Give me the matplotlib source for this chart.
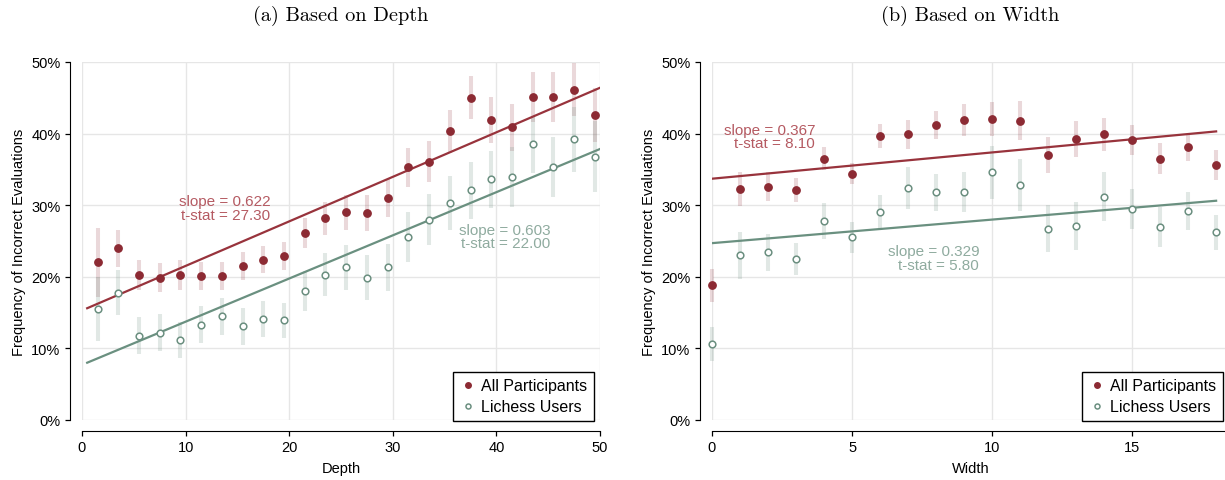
import matplotlib
matplotlib.use("Agg")
import matplotlib.pyplot as plt
import numpy as np

# ---- Data: panel (a) depth ----
depth_x = [1.5 + 2 * i for i in range(25)]
depth_all = [22.0, 24.0, 20.2, 19.9, 20.3, 20.1, 20.1, 21.5, 22.4, 22.9,
             26.1, 28.2, 29.0, 28.9, 31.0, 35.3, 36.1, 40.3, 45.0, 41.9,
             40.9, 45.1, 45.1, 46.1, 42.6]
depth_all_err = [4.8, 2.6, 2.1, 2.0, 2.1, 1.9, 1.9, 1.9, 1.9, 1.9,
                 2.1, 2.3, 2.4, 2.5, 2.6, 2.7, 2.8, 3.0, 3.0, 3.2,
                 3.3, 3.5, 3.5, 3.7, 3.8]
depth_lich = [15.5, 17.8, 11.8, 12.2, 11.2, 13.3, 14.5, 13.1, 14.1, 13.9,
              18.0, 20.3, 21.3, 19.9, 21.3, 25.5, 28.0, 30.3, 32.1, 33.6,
              33.9, 38.5, 35.3, 39.2, 36.8]
depth_lich_err = [4.5, 3.2, 2.6, 2.6, 2.5, 2.6, 2.6, 2.6, 2.5, 2.5,
                  2.8, 3.0, 3.2, 3.2, 3.3, 3.5, 3.6, 3.8, 4.0, 4.0,
                  4.2, 4.0, 4.2, 4.5, 5.0]
depth_fit_x = [0.5, 50.0]
depth_all_fit = [15.3 + 0.622 * 0.5, 15.3 + 0.622 * 50]
depth_lich_fit = [7.7 + 0.603 * 0.5, 7.7 + 0.603 * 50]

# ---- Data: panel (b) width ----
width_x = list(range(19))
width_all = [18.8, 32.3, 32.6, 32.1, 36.5, 34.4, 39.7, 39.9, 41.2, 41.9,
             42.0, 41.8, 37.0, 39.2, 39.9, 39.1, 36.5, 38.1, 35.6]
width_all_err = [2.3, 2.4, 2.0, 1.7, 1.6, 1.5, 1.7, 2.0, 1.9, 2.3,
                 2.4, 2.7, 2.5, 2.5, 2.3, 2.1, 2.2, 1.9, 2.1]
width_lich = [10.6, 23.0, 23.4, 22.5, 27.8, 25.5, 29.1, 32.4, 31.8, 31.8,
              34.6, 32.8, 26.7, 27.1, 31.2, 29.5, 27.0, 29.2, 26.2]
width_lich_err = [2.4, 3.3, 2.6, 2.2, 2.5, 2.2, 2.3, 3.0, 2.6, 2.8,
                  3.7, 3.6, 3.3, 3.3, 3.4, 2.8, 2.8, 2.6, 2.5]
width_fit_x = [0.0, 18.0]
width_all_fit = [33.7, 33.7 + 0.367 * 18]
width_lich_fit = [24.7, 24.7 + 0.329 * 18]

yticks = [0, 10, 20, 30, 40, 50]
ytick_labels = ["0%", "10%", "20%", "30%", "40%", "50%"]

RED = "#8c2a33"
RED_LINE = "#98333c"
RED_ERR = (0.55, 0.16, 0.20, 0.18)
RED_TXT = "#b55a62"
GREEN = "#6b8f80"
GREEN_LINE = "#6a9080"
GREEN_ERR = (0.42, 0.56, 0.50, 0.20)
GREEN_TXT = "#8fab9f"

plt.rcParams['font.family'] = ['Liberation Sans', 'DejaVu Sans']

fig = plt.figure(figsize=(12.25, 4.81), dpi=100)
W, H = 1225, 481
axA = fig.add_axes([82 / W, (H - 421) / H, 518 / W, 358 / H])
axB = fig.add_axes([712 / W, (H - 421) / H, 517 / W, 358 / H])


def draw(ax, x, ya, ea, yl, el, fx, fa, fl, xlim, xticks, xlabel, title, txtA, txtL, axw):
    ax.set_xlim(*xlim)
    ax.set_ylim(0, 50)
    ax.grid(True, color="#e6e6e6", linewidth=1.0, zorder=0)
    ax.set_axisbelow(True)
    ax.set_xticks(xticks)
    ax.set_yticks(yticks)
    ax.set_yticklabels(ytick_labels)
    for s in ["top", "right"]:
        ax.spines[s].set_visible(False)
    ax.spines["left"].set_position(("outward", 9))
    ax.spines["bottom"].set_position(("outward", 8))
    ax.spines["left"].set_bounds(0, 50)
    ax.spines["bottom"].set_bounds(xticks[0], xlim[1])
    ax.tick_params(axis="both", labelsize=10.5, length=3.5, width=0.9, colors="black", pad=3)
    ax.set_xlabel(xlabel, fontsize=10.5, labelpad=5)
    ax.set_ylabel("Frequency of Incorrect Evaluations", fontsize=10.5, labelpad=4)
    ax.set_title(title, fontsize=14.6, family="cmr10", pad=30)

    ax.vlines(x, np.array(ya) - np.array(ea), np.array(ya) + np.array(ea),
              colors=[RED_ERR], linewidth=2.9, zorder=2, clip_on=False)
    ax.vlines(x, np.array(yl) - np.array(el), np.array(yl) + np.array(el),
              colors=[GREEN_ERR], linewidth=2.9, zorder=2, clip_on=False)
    ax.plot(fx, fa, color=RED_LINE, linewidth=1.6, zorder=3)
    ax.plot(fx, fl, color=GREEN_LINE, linewidth=1.6, zorder=3)
    ax.plot(x, ya, linestyle="none", marker="o", markersize=5.3, color=RED,
            markeredgecolor=RED, zorder=4, clip_on=False, label="All Participants")
    ax.plot(x, yl, linestyle="none", marker="o", markersize=4.8, markerfacecolor="white",
            markeredgecolor=GREEN, markeredgewidth=1.1, zorder=4, clip_on=False,
            label="Lichess Users")
    ax.text(txtA[0], txtA[1], txtA[2], ha="right", va="center", color=RED_TXT,
            fontsize=11, linespacing=0.95, zorder=5)
    ax.text(txtL[0], txtL[1], txtL[2], ha="right", va="center", color=GREEN_TXT,
            fontsize=11, linespacing=0.95, zorder=5)
    leg = ax.legend(loc="lower right", bbox_to_anchor=(1 - 6 / axw, -1 / 358),
                    fontsize=11.5, frameon=True, fancybox=False,
                    edgecolor="black", framealpha=1, borderpad=0.42, handletextpad=0.25,
                    handlelength=1.1, labelspacing=0.38, borderaxespad=0.0,
                    markerscale=0.75)
    leg.get_frame().set_linewidth(1.0)


draw(axA, depth_x, depth_all, depth_all_err, depth_lich, depth_lich_err,
     depth_fit_x, depth_all_fit, depth_lich_fit, (0, 50), [0, 10, 20, 30, 40, 50],
     "Depth", "(a) Based on Depth",
     (18.2, 29.6, "slope = 0.622\nt-stat = 27.30"),
     (45.2, 25.6, "slope = 0.603\nt-stat = 22.00"), 518)

draw(axB, width_x, width_all, width_all_err, width_lich, width_lich_err,
     width_fit_x, width_all_fit, width_lich_fit, (0, 18.46), [0, 5, 10, 15],
     "Width", "(b) Based on Width",
     (3.68, 39.6, "slope = 0.367\nt-stat = 8.10"),
     (9.54, 22.6, "slope = 0.329\nt-stat = 5.80"), 517)

fig.savefig("out.png", dpi=100)
